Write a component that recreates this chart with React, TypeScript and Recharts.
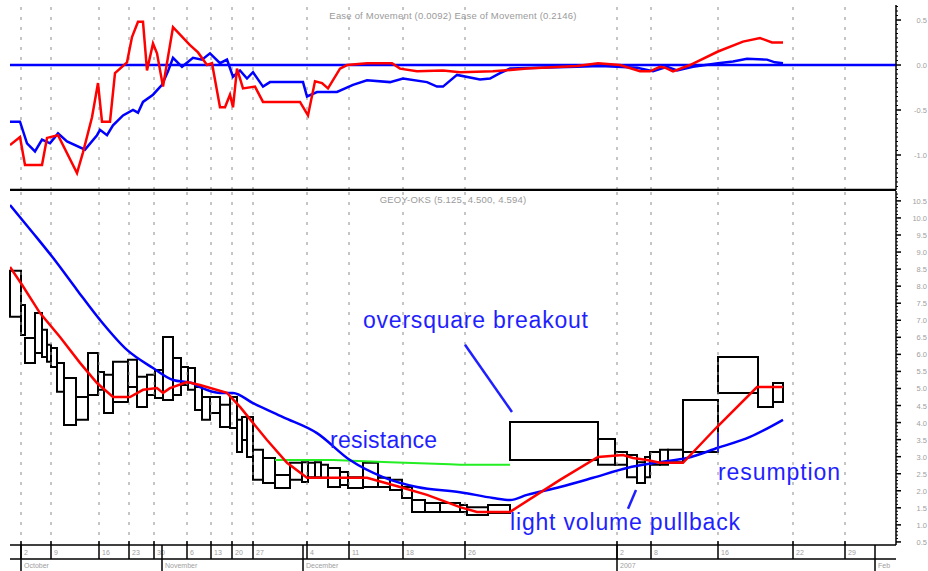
import React from "react";
import {
  ComposedChart,
  Line,
  XAxis,
  YAxis,
  ReferenceLine,
  ReferenceArea,
  ReferenceDot,
} from "recharts";

// x is cumulative volume (equivolume), same scale for both panes
const X_DOMAIN: [number, number] = [0, 886];

// top pane: ease of movement, [cumulative volume, value]
const eomRed: [number, number][] = [
  [0, -0.89], [10, -0.8], [15, -1.11], [32, -1.11], [37, -0.81], [48, -0.78],
  [67, -1.2], [73, -0.97], [82, -0.58], [88, -0.2], [92, -0.63], [100, -0.63],
  [105, -0.09], [117, 0.03], [122, 0.31], [128, 0.48], [133, 0.48], [137, -0.06],
  [143, 0.24], [147, 0.13], [153, -0.24], [163, 0.42], [180, 0.22], [188, 0.14],
  [197, 0.0], [202, 0.02], [210, -0.47], [215, -0.47], [220, -0.33], [223, -0.47],
  [227, -0.04], [233, -0.26], [245, -0.24], [253, -0.41], [290, -0.41], [298, -0.56],
  [305, -0.18], [312, -0.2], [318, -0.26], [330, -0.04], [337, 0.0], [357, 0.02],
  [382, 0.02], [390, -0.04], [407, -0.07], [433, -0.06], [450, -0.08], [483, -0.07],
  [517, -0.04], [567, -0.01], [588, 0.02], [610, 0.0], [630, -0.07], [640, -0.07],
  [650, -0.02], [655, -0.03], [663, -0.07], [680, 0.0], [708, 0.15], [733, 0.26],
  [750, 0.3], [762, 0.25], [773, 0.25],
];

const eomBlue: [number, number][] = [
  [0, -0.63], [10, -0.63], [17, -0.87], [25, -0.96], [32, -0.83], [40, -0.87],
  [48, -0.76], [57, -0.85], [75, -0.94], [87, -0.78], [90, -0.72], [97, -0.78],
  [103, -0.67], [113, -0.56], [123, -0.5], [128, -0.53], [133, -0.41], [143, -0.33],
  [152, -0.22], [158, -0.07], [163, 0.08], [172, -0.02], [183, 0.08], [192, 0.06],
  [200, 0.13], [210, 0.02], [217, 0.06], [223, -0.13], [230, -0.06], [237, -0.15],
  [243, -0.08], [253, -0.24], [260, -0.19], [293, -0.19], [297, -0.35], [307, -0.3],
  [327, -0.3], [343, -0.22], [357, -0.17], [380, -0.19], [393, -0.15], [417, -0.19],
  [427, -0.24], [433, -0.24], [447, -0.11], [470, -0.16], [480, -0.15], [490, -0.09],
  [500, -0.04], [567, -0.02], [590, -0.01], [607, -0.02], [627, -0.03], [643, -0.07],
  [657, -0.02], [667, -0.06], [683, -0.02], [708, 0.02], [723, 0.04], [737, 0.07],
  [757, 0.06], [765, 0.03], [773, 0.02],
];

// bottom pane: equivolume boxes
const boxVolume = [
  11, 4, 10, 7, 5, 4, 6, 7, 12, 12, 10, 6, 9, 15, 9, 10, 8, 8, 10, 8, 7, 7, 7, 8,
  10, 10, 7, 5, 5, 6, 10, 12, 15, 12, 6, 7, 6, 7, 12, 8, 15, 15, 12, 12, 10, 13,
  15, 20, 7, 21, 22, 88, 17, 12, 10, 8, 5, 10, 8, 15, 35, 40, 15, 10,
];
const boxHigh = [
  8.45, 7.45, 6.48, 7.21, 6.72, 6.28, 6.19, 5.75, 5.31, 4.75, 6.04, 5.48, 5.4,
  5.78, 5.84, 5.34, 5.4, 5.54, 6.51, 5.89, 5.63, 5.6, 5.04, 4.75, 4.75, 4.52,
  4.75, 4.08, 4.16, 4.16, 3.2, 2.96, 2.46, 2.82, 2.84, 2.82, 2.84, 2.76, 2.67,
  2.55, 2.4, 2.82, 2.38, 2.32, 2.11, 1.73, 1.64, 1.64, 1.58, 1.52, 1.58, 4.02,
  3.52, 3.14, 3.05, 2.84, 2.99, 3.14, 3.2, 3.2, 4.66, 5.92, 5.04, 5.16,
];
const boxLow = [
  7.1, 6.57, 5.75, 6.04, 5.92, 5.78, 5.63, 4.9, 3.93, 4.08, 4.81, 4.96, 4.28,
  4.6, 5.04, 4.46, 4.81, 4.72, 4.66, 4.81, 5.1, 4.96, 4.37, 4.08, 4.28, 3.87,
  3.84, 3.14, 3.49, 2.99, 2.32, 2.23, 2.08, 2.32, 2.26, 2.4, 2.4, 2.38, 2.11,
  2.17, 2.08, 2.11, 2.11, 2.02, 1.79, 1.38, 1.38, 1.38, 1.38, 1.29, 1.35, 2.9,
  2.76, 2.76, 2.4, 2.23, 2.4, 2.76, 2.76, 2.84, 3.14, 4.87, 4.46, 4.6,
];

const maSlow: [number, number][] = [
  [0, 10.38], [23, 9.56], [43, 8.83], [67, 7.89], [90, 7.01], [117, 6.13],
  [143, 5.6], [163, 5.25], [182, 5.16], [190, 5.04], [210, 4.87], [223, 4.87],
  [243, 4.57], [273, 4.16], [307, 3.69], [340, 2.9], [373, 2.4], [407, 2.11],
  [450, 1.96], [483, 1.79], [500, 1.73], [517, 1.88], [550, 2.11], [583, 2.38],
  [617, 2.67], [650, 2.84], [677, 2.96], [708, 3.26], [740, 3.58], [773, 4.08],
];

const maFast: [number, number][] = [
  [0, 8.56], [12, 8.04], [30, 7.21], [50, 6.51], [70, 5.75], [87, 5.16],
  [103, 4.75], [120, 4.75], [133, 4.96], [147, 5.01], [153, 4.87], [160, 5.01],
  [177, 5.19], [190, 5.1], [217, 4.87], [230, 4.46], [243, 3.99], [257, 3.49],
  [277, 2.82], [297, 2.38], [323, 2.38], [357, 2.38], [390, 2.11], [417, 1.88],
  [450, 1.52], [467, 1.38], [500, 1.38], [550, 2.32], [588, 2.99], [613, 3.05],
  [623, 2.96], [637, 2.9], [650, 2.82], [673, 2.82], [707, 3.87], [747, 5.04],
  [773, 5.04],
];

const resistance: [number, number][] = [
  [265, 2.9], [323, 2.9], [380, 2.84], [440, 2.78], [450, 2.76], [500, 2.76],
];

// date axis
const weekPos = [11, 41, 89, 119, 144, 177, 201, 222, 243, 297, 339, 393, 455, 607, 641, 708, 783, 835];
const weekLabels = ["2", "9", "16", "23", "30", "6", "13", "20", "27", "4", "11", "18", "26", "2", "8", "16", "22", "29"];
const monthPos = [11, 152, 293, 607, 865];
const monthLabels = ["October", "November", "December", "2007", "Feb"];

const eomMajor = [0.5, 0, -0.5, -1.0];
const priceMajor = [10.5, 10.0, 9.5, 9.0, 8.5, 8.0, 7.5, 7.0, 6.5, 6.0, 5.5, 5.0, 4.5, 4.0, 3.5, 3.0, 2.5, 2.0, 1.5, 1.0, 0.5];

const EOM_DOMAIN: [number, number] = [-1.389, 0.667];
const PRICE_DOMAIN: [number, number] = [0.41, 10.79];

const BLUE = "#0000ff";
const RED = "#ff0000";
const INK = "#1f1fff";
const GRID = "#8c8c8c";
const LABEL = "#a0a0a0";

const pts = (pairs: [number, number][]) => pairs.map(([x, v]) => ({ x, v }));

const boxes = boxVolume.map((vol, i) => {
  const start = boxVolume.slice(0, i).reduce((a, b) => a + b, 0);
  return { x1: start, x2: start + vol, hi: boxHigh[i], lo: boxLow[i] };
});

const eomTicks: number[] = [];
for (let k = -27; k <= 13; k++) eomTicks.push(Math.round(k * 5) / 100);
const priceTicks: number[] = [];
for (let k = 5; k <= 107; k++) priceTicks.push(k / 10);

const isMajor = (v: number, list: number[]) => list.some((m) => Math.abs(m - v) < 1e-6);

function yTick(major: number[]) {
  return (props: any) => {
    const { x, y, payload } = props;
    const v = payload.value;
    const big = isMajor(v, major);
    return (
      <g>
        <line x1={x} x2={x + (big ? 5 : 2)} y1={y} y2={y} stroke="#000" strokeWidth={big ? 1.5 : 1} />
        {big && (
          <text x={x + 31} y={y + 3} textAnchor="end" fontSize={7.5} fill={LABEL}>
            {v.toFixed(1)}
          </text>
        )}
      </g>
    );
  };
}

const WeekTick = (props: any) => {
  const { x, y, payload } = props;
  const i = weekPos.indexOf(payload.value);
  return (
    <g>
      <line x1={x} x2={x} y1={y - 4} y2={y + 14} stroke="#000" strokeWidth={1.5} />
      <text x={x + 3} y={y + 10} fontSize={7} fill={LABEL}>
        {weekLabels[i]}
      </text>
    </g>
  );
};

const MonthTick = (props: any) => {
  const { x, y, payload } = props;
  const i = monthPos.indexOf(payload.value);
  return (
    <g>
      <line x1={x} x2={x} y1={y - 14} y2={y + 12} stroke="#000" strokeWidth={1.5} />
      <text x={x + 3} y={y + 9} fontSize={7} fill={LABEL}>
        {monthLabels[i]}
      </text>
    </g>
  );
};

function note(text: string, len: number) {
  return (props: any) => {
    const vb = props.viewBox || {};
    return (
      <text
        x={vb.x}
        y={vb.y}
        fill={INK}
        fontSize={23}
        fontFamily="Arial, 'Liberation Sans', sans-serif"
        textLength={len}
        lengthAdjust="spacing"
      >
        {text}
      </text>
    );
  };
}

function TopPane() {
  return (
    <ComposedChart width={928} height={191} margin={{ top: 5, right: 0, bottom: 0, left: 10 }}>
      <XAxis
        type="number"
        dataKey="x"
        domain={X_DOMAIN}
        allowDataOverflow
        height={1}
        tick={false}
        tickLine={false}
        axisLine={{ stroke: "#000", strokeWidth: 2.5 }}
      />
      <YAxis
        orientation="right"
        type="number"
        domain={EOM_DOMAIN}
        allowDataOverflow
        ticks={eomTicks}
        interval={0}
        width={32}
        tickSize={0}
        tickMargin={0}
        tickLine={false}
        axisLine={{ stroke: "#000", strokeWidth: 1.5 }}
        tick={yTick(eomMajor)}
      />
      {weekPos.map((x) => (
        <ReferenceLine key={x} x={x} stroke={GRID} strokeDasharray="3 7" />
      ))}
      <ReferenceLine y={0} stroke={BLUE} strokeWidth={2.5} />
      <Line data={pts(eomBlue)} dataKey="v" type="linear" stroke={BLUE} strokeWidth={2.5} dot={false} isAnimationActive={false} />
      <Line data={pts(eomRed)} dataKey="v" type="linear" stroke={RED} strokeWidth={2.5} dot={false} isAnimationActive={false} />
    </ComposedChart>
  );
}

function BottomPane() {
  return (
    <ComposedChart width={928} height={381} margin={{ top: 1, right: 0, bottom: 0, left: 10 }}>
      <XAxis
        type="number"
        dataKey="x"
        domain={X_DOMAIN}
        allowDataOverflow
        ticks={weekPos}
        interval={0}
        height={14}
        tickSize={0}
        tickMargin={0}
        tickLine={false}
        axisLine={{ stroke: "#000", strokeWidth: 1.5 }}
        tick={WeekTick}
      />
      <XAxis
        xAxisId="month"
        type="number"
        dataKey="x"
        domain={X_DOMAIN}
        allowDataOverflow
        ticks={monthPos}
        interval={0}
        height={12}
        tickSize={0}
        tickMargin={0}
        tickLine={false}
        axisLine={{ stroke: "#000", strokeWidth: 1.5 }}
        tick={MonthTick}
      />
      <YAxis
        orientation="right"
        type="number"
        domain={PRICE_DOMAIN}
        allowDataOverflow
        ticks={priceTicks}
        interval={0}
        width={32}
        tickSize={0}
        tickMargin={0}
        tickLine={false}
        axisLine={{ stroke: "#000", strokeWidth: 1.5 }}
        tick={yTick(priceMajor)}
      />
      {weekPos.map((x) => (
        <ReferenceLine key={x} x={x} stroke={GRID} strokeDasharray="3 7" />
      ))}
      {boxes.map((b, i) => (
        <ReferenceArea
          key={i}
          x1={b.x1}
          x2={b.x2}
          y1={b.lo}
          y2={b.hi}
          fill="#fff"
          fillOpacity={1}
          stroke="#000"
          strokeWidth={2}
        />
      ))}
      <Line data={pts(resistance)} dataKey="v" type="linear" stroke="#22ee22" strokeWidth={2} dot={false} isAnimationActive={false} />
      <Line data={pts(maSlow)} dataKey="v" type="monotone" stroke={BLUE} strokeWidth={2.5} dot={false} isAnimationActive={false} />
      <Line data={pts(maFast)} dataKey="v" type="linear" stroke={RED} strokeWidth={2.5} dot={false} isAnimationActive={false} />

      <ReferenceLine segment={[{ x: 455, y: 6.28 }, { x: 502, y: 4.31 }]} stroke={INK} strokeWidth={2.5} />
      <ReferenceLine segment={[{ x: 626, y: 2.02 }, { x: 618, y: 1.47 }]} stroke={INK} strokeWidth={2.5} />
      <ReferenceLine segment={[{ x: 708, y: 3.69 }, { x: 708, y: 3.14 }]} stroke={INK} strokeWidth={2} />

      <ReferenceDot x={353} y={6.77} r={0} fill="none" stroke="none" label={note("oversquare breakout", 225)} />
      <ReferenceDot x={320} y={3.26} r={0} fill="none" stroke="none" label={note("resistance", 107)} />
      <ReferenceDot x={500} y={0.85} r={0} fill="none" stroke="none" label={note("light volume pullback", 230)} />
      <ReferenceDot x={708} y={2.32} r={0} fill="none" stroke="none" label={note("resumption", 122)} />
    </ComposedChart>
  );
}

const titleStyle: React.CSSProperties = {
  position: "absolute",
  left: 10,
  width: 886,
  textAlign: "center",
  fontSize: 9.5,
  letterSpacing: 0.2,
  color: "#9a9a9a",
  whiteSpace: "nowrap",
};

export default function App() {
  return (
    <div
      style={{
        position: "absolute",
        left: 0,
        top: 0,
        width: 928,
        height: 571,
        background: "#fff",
        overflow: "hidden",
        fontFamily: "Arial, 'Liberation Sans', sans-serif",
      }}
    >
      <div style={{ position: "absolute", left: 0, top: 0 }}>
        <TopPane />
      </div>
      <div style={{ position: "absolute", left: 0, top: 190 }}>
        <BottomPane />
      </div>
      <div style={{ ...titleStyle, top: 10 }}>
        Ease of Movement (0.0092) Ease of Movement (0.2146)
      </div>
      <div style={{ ...titleStyle, top: 194 }}>GEOY-OKS (5.125, 4.500, 4.594)</div>
    </div>
  );
}
